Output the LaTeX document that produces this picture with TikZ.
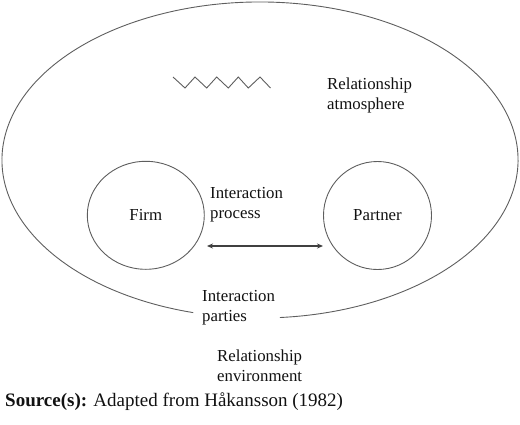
\documentclass[tikz,border=0pt]{standalone}
\usepackage{fontspec}
\setmainfont{Liberation Serif}
\usetikzlibrary{shapes.geometric,arrows.meta}
\definecolor{linegray}{HTML}{5E5E5E}
\definecolor{arrowgray}{HTML}{404040}
\definecolor{txt}{HTML}{111111}
\tikzset{
  outline/.style={draw=linegray, line width=0.9pt},
  lbl/.style={inner sep=0pt, align=left, text=txt, font=\rmfamily\fontsize{16.8}{20}\selectfont},
  party/.style={outline, inner sep=0pt, text=txt, font=\rmfamily\fontsize{16.8}{20}\selectfont},
  flow/.style={draw=arrowgray, line width=1.3pt, {Stealth[length=6pt,width=5pt]}-{Stealth[length=6pt,width=5pt]}},
}
\begin{document}
\begin{tikzpicture}[x=1pt,y=-1pt]
\useasboundingbox (0,0) rectangle (520,424);
% outer environment ellipse with gap at the bottom
\draw[outline] ([shift={(105:258 and 158)}]260,160) arc[start angle=105, end angle=445.6, x radius=258, y radius=158];
% parties
\node[party, ellipse, minimum width=117pt, minimum height=108pt] (firm) at (145.8,215.3) {Firm};
\node[party, circle, minimum size=108pt] (partner) at (377.5,215.5) {Partner};
% interaction process arrow
\coordinate (aL) at (207,246);
\coordinate (aR) at (323,246);
\draw[flow] (aL) -- (aR);
% atmosphere zigzag
\draw[outline, line join=miter] (173,77) -- (185,88) -- (195,77) -- (206.7,88) -- (216.7,77) -- (228.3,88) -- (238.3,77) -- (248.3,88) -- (260,77) -- (270.5,88);
% labels
\node[lbl, anchor=west] (atm) at (327,95) {Relationship\\atmosphere};
\node[lbl, anchor=west] (proc) at (210,205) {Interaction\\process};
\node[lbl, anchor=west] (parties) at (202,308) {Interaction\\parties};
\node[lbl, anchor=west] (env) at (217,366) {Relationship\\environment};
\node[inner sep=0pt, anchor=west, text=txt, font=\rmfamily\fontsize{19}{22}\selectfont] (src) at (5,402) {\textbf{Source(s):} Adapted from Håkansson (1982)};
\end{tikzpicture}
\end{document}
